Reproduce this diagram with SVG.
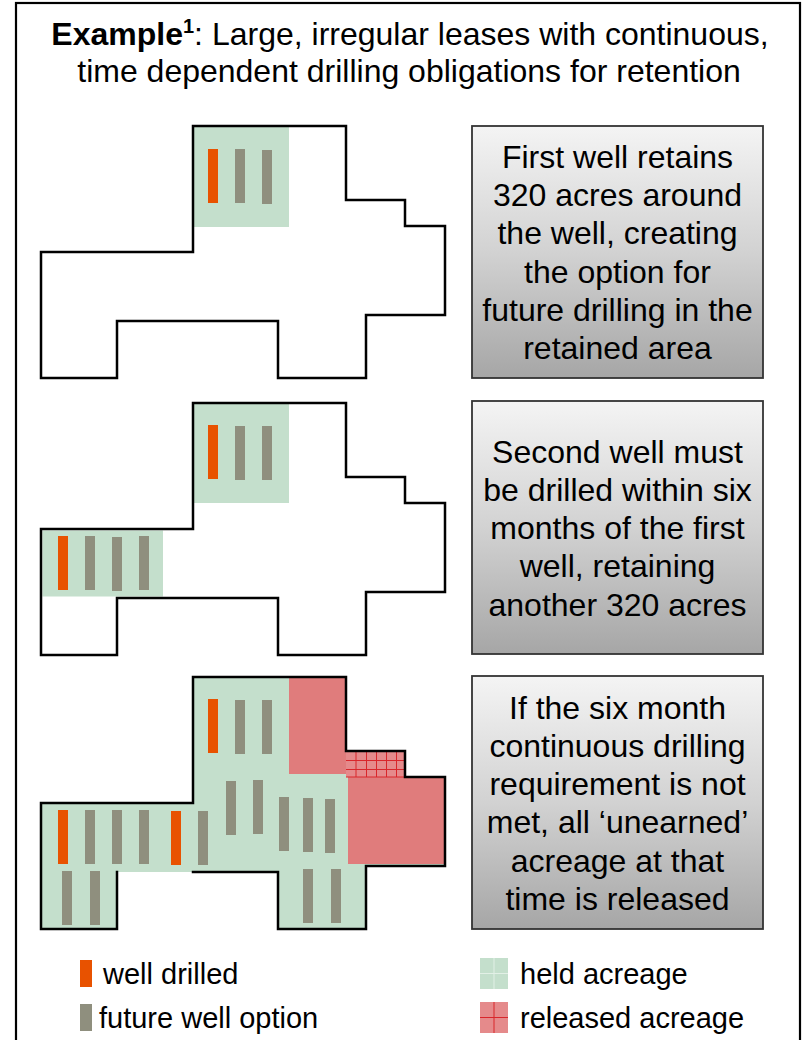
<svg xmlns="http://www.w3.org/2000/svg" width="806" height="1040" viewBox="0 0 806 1040">
<defs>
<style>
.t{font-family:"Liberation Sans",Arial,sans-serif;fill:#000}
.box-txt{font-size:32px;text-anchor:middle}
.title{font-size:32px;text-anchor:middle}
.leg{font-size:29px}
.lease{fill:none;stroke:#000;stroke-width:2.5;stroke-linejoin:miter;stroke-linecap:square}
.held{fill:#c4dfcc}
.rel{fill:#e07c7c}
.drilled{fill:#e85200}
.opt{fill:#8f8f7e}
.box{fill:url(#boxGrad);stroke:#333;stroke-width:1.8}
.gridln{stroke:#d9262b;stroke-width:1}
</style>
<linearGradient id="boxGrad" x1="0" y1="0" x2="0" y2="1">
<stop offset="0" stop-color="#f4f4f4"/>
<stop offset="0.5" stop-color="#d2d2d2"/>
<stop offset="1" stop-color="#a6a6a6"/>
</linearGradient>
</defs>

<rect id="frame" x="16" y="3" width="784" height="1050" fill="#fff" stroke="#000" stroke-width="2.2"/>

<g id="title" class="t title">
<text x="410" y="45"><tspan font-weight="bold">Example</tspan><tspan font-size="20" font-weight="bold" dy="-12">1</tspan><tspan dy="12">: Large, irregular leases with continuous,</tspan></text>
<text x="409" y="82">time dependent drilling obligations for retention</text>
</g>

<!-- Panel 1 -->
<g id="panel1">
<rect class="held" x="193" y="126" width="96" height="101"/>
<rect class="drilled" x="208" y="149" width="10" height="54"/>
<rect class="opt" x="235" y="149" width="10" height="54"/>
<rect class="opt" x="262" y="150" width="10" height="54"/>
<path class="lease" d="M193,126 H346 V200 H405 V226 H445 V315 H366 V378 H278 V321 H117 V378 H41 V252 H193 Z"/>
</g>

<g id="box1">
<rect class="box" x="472" y="126" width="291" height="252"/>
<g class="t box-txt">
<text x="617.5" y="168">First well retains</text>
<text x="617.5" y="206.2">320 acres around</text>
<text x="617.5" y="244.4">the well, creating</text>
<text x="617.5" y="282.6">the option for</text>
<text x="617.5" y="320.8">future drilling in the</text>
<text x="617.5" y="359">retained area</text>
</g>
</g>

<!-- Panel 2 -->
<g id="panel2">
<rect class="held" x="193" y="403" width="96" height="100"/>
<rect class="held" x="42.5" y="530.5" width="120.5" height="66"/>
<rect class="drilled" x="208" y="425" width="10" height="54"/>
<rect class="opt" x="235" y="426" width="10" height="54"/>
<rect class="opt" x="262" y="426" width="10" height="54"/>
<rect class="drilled" x="58" y="536" width="10" height="54"/>
<rect class="opt" x="85" y="536" width="10" height="54"/>
<rect class="opt" x="112" y="537" width="10" height="54"/>
<rect class="opt" x="139" y="536" width="10" height="54"/>
<path class="lease" d="M193,403 H346 V477 H405 V503 H445 V592 H366 V655 H278 V598 H117 V655 H41 V529 H193 Z"/>
</g>

<g id="box2">
<rect class="box" x="472" y="401" width="291" height="253"/>
<g class="t box-txt">
<text x="617.5" y="462.8">Second well must</text>
<text x="617.5" y="501">be drilled within six</text>
<text x="617.5" y="539.2">months of the first</text>
<text x="617.5" y="577.4">well, retaining</text>
<text x="617.5" y="615.6">another 320 acres</text>
</g>
</g>

<!-- Panel 3 -->
<g id="panel3">
<path class="held" d="M193,677 H346 V751 H405 V777 H445 V866 H366 V929 H278 V872 H117 V929 H41 V803 H193 Z"/>
<rect class="rel" x="289" y="677" width="57" height="97"/>
<rect class="rel" x="348" y="777" width="97" height="87"/>
<rect x="346" y="751" width="59" height="26" fill="#e58a8b"/>
<g class="gridln">
<line x1="356" y1="751" x2="356" y2="777"/>
<line x1="366.5" y1="751" x2="366.5" y2="777"/>
<line x1="376.5" y1="751" x2="376.5" y2="777"/>
<line x1="386.5" y1="751" x2="386.5" y2="777"/>
<line x1="396.5" y1="751" x2="396.5" y2="777"/>
<line x1="346" y1="760.5" x2="405" y2="760.5"/>
<line x1="346" y1="769.5" x2="405" y2="769.5"/>
<line x1="346" y1="777" x2="405" y2="777"/>
</g>
<rect class="drilled" x="208" y="699" width="10" height="54"/>
<rect class="opt" x="235" y="700" width="10" height="54"/>
<rect class="opt" x="262" y="700" width="10" height="54"/>
<rect class="opt" x="226" y="781" width="10" height="54"/>
<rect class="opt" x="253" y="780" width="10" height="54"/>
<rect class="opt" x="279" y="797" width="10" height="54"/>
<rect class="opt" x="303" y="798" width="10" height="54"/>
<rect class="opt" x="325" y="799" width="10" height="54"/>
<rect class="drilled" x="58" y="810" width="10" height="54"/>
<rect class="opt" x="85" y="810" width="10" height="54"/>
<rect class="opt" x="112" y="810" width="10" height="54"/>
<rect class="opt" x="139" y="810" width="10" height="54"/>
<rect class="drilled" x="171" y="811" width="10" height="54"/>
<rect class="opt" x="198" y="811" width="10" height="54"/>
<rect class="opt" x="62" y="871" width="10" height="54"/>
<rect class="opt" x="90" y="871" width="10" height="54"/>
<rect class="opt" x="303" y="869" width="10" height="54"/>
<rect class="opt" x="331" y="869" width="10" height="54"/>
<path class="lease" d="M193,872 H278 V929 H366 V866 H445 V777 H405 V751 H346 V677 H193 V803 H41 V929 H117 V872"/>
</g>

<g id="box3">
<rect class="box" x="472" y="676" width="291" height="253"/>
<g class="t box-txt">
<text x="617.5" y="718.7">If the six month</text>
<text x="617.5" y="756.9">continuous drilling</text>
<text x="617.5" y="795.1">requirement is not</text>
<text x="617.5" y="833.3">met, all ‘unearned’</text>
<text x="617.5" y="871.5">acreage at that</text>
<text x="617.5" y="909.7">time is released</text>
</g>
</g>

<!-- Legend -->
<g id="legend-drilled">
<rect class="drilled" x="80" y="960" width="12" height="27"/>
<text class="t leg" x="103" y="984">well drilled</text>
</g>
<g id="legend-option">
<rect class="opt" x="80" y="1004" width="12" height="27"/>
<text class="t leg" x="99" y="1028">future well option</text>
</g>
<g id="legend-held">
<rect class="held" x="480" y="958" width="28" height="31"/>
<path d="M494,958 V989 M480,973.5 H508" stroke="#e2f0e6" stroke-width="1"/>
<text class="t leg" x="520" y="984">held acreage</text>
</g>
<g id="legend-released">
<rect x="480" y="1002" width="28" height="31" fill="#e58a8b"/>
<path d="M494,1002 V1033 M480,1017.5 H508" stroke="#d9262b" stroke-width="1"/>
<text class="t leg" x="520" y="1028">released acreage</text>
</g>
</svg>
